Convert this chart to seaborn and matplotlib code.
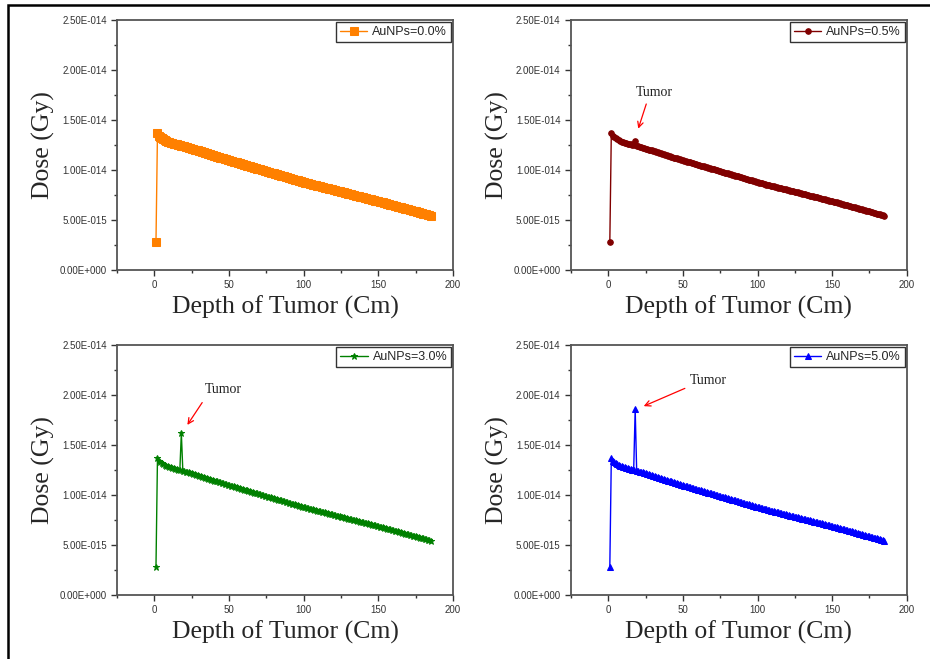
import matplotlib
matplotlib.use("Agg")
import matplotlib.pyplot as plt
import numpy as np
import pandas as pd
import seaborn as sns
from matplotlib.patches import Rectangle
from matplotlib.ticker import FuncFormatter, MultipleLocator

DEPTH = list(range(1, 186))
BASE_DOSE = [
    2.80,
    13.70, 13.45, 13.30, 13.20, 13.10, 13.02, 12.95, 12.88, 12.82,
    12.77, 12.74, 12.68, 12.65, 12.60, 12.55, 12.53, 12.47, 12.44, 12.40,
    12.36, 12.30, 12.27, 12.21, 12.18, 12.12, 12.08, 12.02, 11.99, 11.93,
    11.89, 11.84, 11.80, 11.74, 11.71, 11.65, 11.61, 11.56, 11.51, 11.46,
    11.42, 11.37, 11.33, 11.27, 11.24, 11.18, 11.14, 11.09, 11.05, 11.00,
    10.96, 10.91, 10.87, 10.83, 10.78, 10.74, 10.70, 10.65, 10.61, 10.56,
    10.52, 10.47, 10.44, 10.38, 10.35, 10.30, 10.26, 10.21, 10.17, 10.12,
    10.08, 10.03, 9.99, 9.95, 9.90, 9.86, 9.82, 9.77, 9.73, 9.68,
    9.64, 9.59, 9.56, 9.51, 9.47, 9.42, 9.38, 9.34, 9.29, 9.24,
    9.20, 9.16, 9.11, 9.07, 9.02, 8.98, 8.94, 8.89, 8.85, 8.80,
    8.77, 8.72, 8.69, 8.65, 8.61, 8.57, 8.54, 8.50, 8.45, 8.42,
    8.38, 8.35, 8.30, 8.27, 8.23, 8.19, 8.16, 8.11, 8.08, 8.04,
    8.00, 7.96, 7.93, 7.88, 7.85, 7.81, 7.78, 7.73, 7.70, 7.66,
    7.62, 7.58, 7.55, 7.50, 7.47, 7.43, 7.40, 7.35, 7.32, 7.28,
    7.24, 7.20, 7.17, 7.12, 7.09, 7.05, 7.02, 6.97, 6.94, 6.90,
    6.86, 6.82, 6.78, 6.73, 6.70, 6.65, 6.62, 6.57, 6.53, 6.49,
    6.45, 6.41, 6.37, 6.32, 6.29, 6.24, 6.21, 6.16, 6.12, 6.08,
    6.04, 6.00, 5.96, 5.91, 5.88, 5.83, 5.80, 5.75, 5.71, 5.67,
    5.62, 5.59, 5.55, 5.50, 5.45,
]

# Per-panel settings
LABELS = ["AuNPs=0.0%", "AuNPs=0.5%", "AuNPs=3.0%", "AuNPs=5.0%"]
COLORS = ["#ff8000", "#800000", "#008000", "#0000ff"]
MARKERS = ["s", "o", "*", "^"]
MARKER_SIZES = [5.5, 4, 5, 4.5]
TUMOR_DEPTH = 18
TUMOR_DOSE = [None, 12.9, 16.2, 18.6]  # x1e-15 Gy
# (text x, text y, arrow tail x, tail y, head x, head y) in data units (y in 1e-15)
TUMOR_NOTE = [None,
              (31, 17.8, 26, 16.9, 19.5, 13.9),
              (46, 20.6, 33, 19.5, 21, 16.8),
              (67, 21.5, 53, 20.8, 22, 18.8)]

sns.set_style("ticks")
plt.rcParams["font.family"] = ["Liberation Sans", "DejaVu Sans"]


def sci_fmt(v, pos):
    if abs(v) < 1e-30:
        return "0.00E+000"
    exp = int(np.floor(np.log10(abs(v))))
    mant = v / 10 ** exp
    sign = "-" if exp < 0 else "+"
    return f"{mant:.2f}E{sign}{abs(exp):03d}"


fig = plt.figure(figsize=(9.3, 6.59), dpi=100)
fig.patches.append(Rectangle((8 / 930, -0.05), 1.2, 1 - 5 / 659 + 0.05,
                             transform=fig.transFigure, fill=False,
                             edgecolor="black", linewidth=1.8))

rects = [
    (0.126, 0.590, 0.361, 0.379),
    (0.614, 0.590, 0.361, 0.379),
    (0.126, 0.097, 0.361, 0.379),
    (0.614, 0.097, 0.361, 0.379),
]

for i, rect in enumerate(rects):
    ax = fig.add_axes(rect)
    dose = list(BASE_DOSE)
    if TUMOR_DOSE[i] is not None:
        dose[DEPTH.index(TUMOR_DEPTH)] = TUMOR_DOSE[i]
    df = pd.DataFrame({"depth": DEPTH, "dose": np.array(dose) * 1e-15})
    sns.lineplot(data=df, x="depth", y="dose", ax=ax, color=COLORS[i],
                 marker=MARKERS[i], markersize=MARKER_SIZES[i],
                 markeredgecolor=COLORS[i], linewidth=1.0, label=LABELS[i])

    ax.set_xlim(-25, 200)
    ax.set_ylim(0, 2.5e-14)
    ax.xaxis.set_major_locator(MultipleLocator(50))
    ax.xaxis.set_minor_locator(MultipleLocator(25))
    ax.yaxis.set_major_locator(MultipleLocator(5e-15))
    ax.yaxis.set_minor_locator(MultipleLocator(2.5e-15))
    ax.yaxis.set_major_formatter(FuncFormatter(sci_fmt))
    ax.yaxis.get_offset_text().set_visible(False)
    ax.tick_params(which="major", direction="out", length=4, width=1,
                   labelsize=7, colors="#333333")
    ax.tick_params(which="minor", direction="out", length=2.5, width=1,
                   colors="#333333")
    ax.tick_params(axis="x", pad=3)
    for s in ax.spines.values():
        s.set_visible(True)
        s.set_color("#555555")
        s.set_linewidth(1.3)

    ax.set_xlabel("Depth of Tumor (Cm)", family="Liberation Serif",
                  fontsize=18.5, labelpad=4)
    ax.set_ylabel("Dose (Gy)", family="Liberation Serif", fontsize=18.5,
                  labelpad=3)

    leg = ax.legend(loc="upper right", borderaxespad=0.15, fontsize=9,
                    frameon=True, fancybox=False, handlelength=2.2,
                    borderpad=0.3, handletextpad=0.4)
    leg.get_frame().set_edgecolor("black")
    leg.get_frame().set_linewidth(1.0)

    note = TUMOR_NOTE[i]
    if note is not None:
        tx, ty, ax0, ay0, hx, hy = note
        ax.text(tx, ty * 1e-15, "Tumor", family="Liberation Serif",
                fontsize=10, ha="center", va="center", color="#222222")
        ax.annotate("", xy=(hx, hy * 1e-15), xytext=(ax0, ay0 * 1e-15),
                    arrowprops=dict(arrowstyle="->", color="red", lw=0.9))

fig.savefig("out.png", dpi=100)
